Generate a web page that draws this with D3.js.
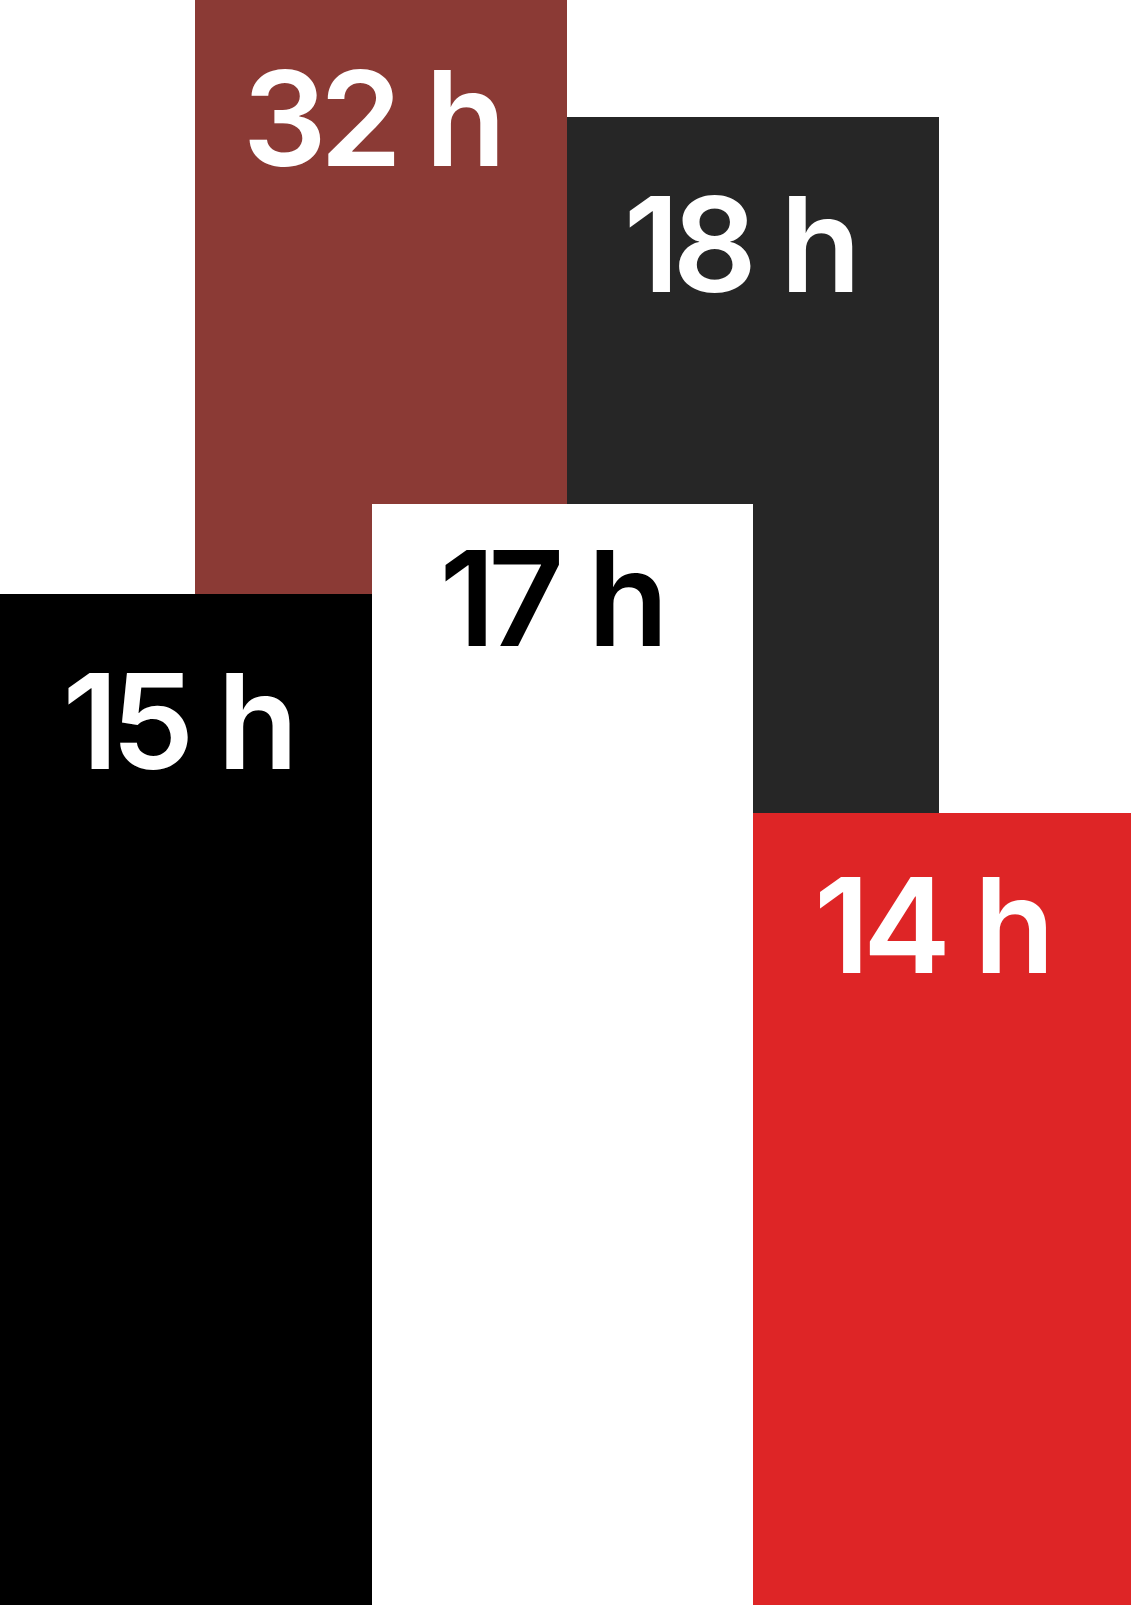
<!DOCTYPE html>
<html>
<head>
<meta charset="utf-8">
<script src="https://cdn.jsdelivr.net/npm/d3@7/dist/d3.min.js"></script>
<style>
  html, body { margin: 0; padding: 0; background: #ffffff; }
  svg { display: block; }
</style>
</head>
<body>
<script>
// ---- data ----
const categories = ["A", "B", "C", "D", "E"];          // left-to-right order
const values     = [15, 32, 17, 18, 14];                // hours
const labels     = ["15 h", "32 h", "17 h", "18 h", "14 h"];

// ---- style ----
const fills     = ["#000000", "#8B3A35", "#ffffff", "#262626", "#DE2526"];
const textFills = ["#ffffff", "#ffffff", "#000000", "#ffffff", "#ffffff"];

const W = 1131, H = 1605;
const svg = d3.select("body").append("svg").attr("width", W).attr("height", H);

const data = categories.map((c, i) => ({
  cat: c, value: values[i], label: labels[i], fill: fills[i], tfill: textFills[i], idx: i
}));

// overlapping columns: each column spans two half-steps (piecewise layout scale)
const x = d3.scaleLinear()
  .domain(d3.range(categories.length + 2))
  .range([0, 195, 372, 567, 753, 939, W]);

// stylised (non-proportional) height scale: piecewise linear through the ordered values
const sortedVals = values.slice().sort((a, b) => a - b);
const y = d3.scaleLinear()
  .domain(sortedVals)
  .range([813, 594, 504, 117, 0]);

// label layout
const labelOffset = d3.scaleOrdinal().domain(categories).range([175, 166, 142, 175, 160]);
const labelShift = d3.scaleOrdinal().domain(categories).range([-9, -10, -12, -14, -11]);

// tallest drawn first so the lower ones overlap them
const drawOrder = data.slice().sort((a, b) => b.value - a.value);

const g = svg.selectAll("g.bar").data(drawOrder).join("g").attr("class", "bar");

g.append("rect")
  .attr("x", d => x(d.idx))
  .attr("y", d => y(d.value))
  .attr("width", d => x(d.idx + 2) - x(d.idx))
  .attr("height", d => H - y(d.value))
  .attr("fill", d => d.fill);

g.append("text")
  .attr("x", d => (x(d.idx) + x(d.idx + 2)) / 2 + labelShift(d.cat))
  .attr("y", d => y(d.value) + labelOffset(d.cat))
  .attr("text-anchor", "middle")
  .attr("fill", d => d.tfill)
  .style("font-family", "Inter, 'Noto Sans', sans-serif")
  .style("font-weight", 600)
  .style("font-size", "132px")
  .style("letter-spacing", "-7px")
  .style("word-spacing", "4px")
  .text(d => d.label);
</script>
</body>
</html>
